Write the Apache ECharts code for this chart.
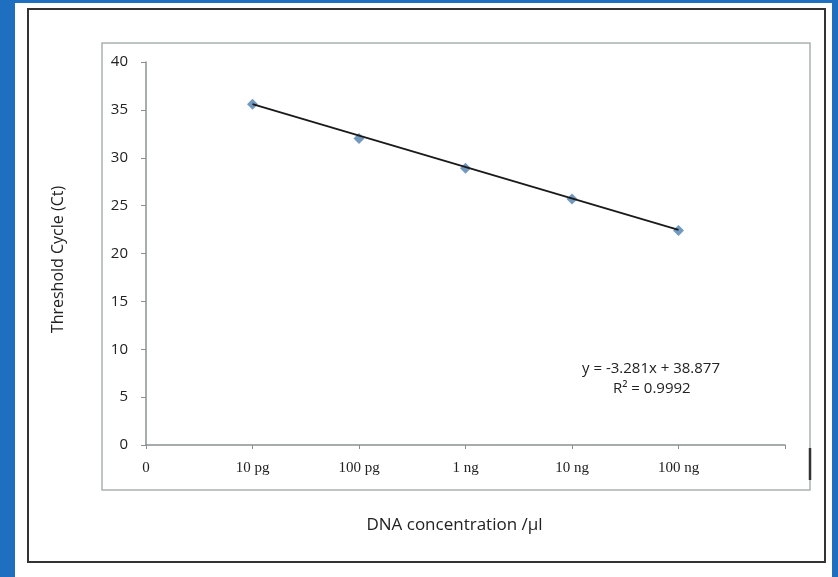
<!DOCTYPE html>
<html>
<head>
<meta charset="utf-8">
<script src="https://cdn.jsdelivr.net/npm/echarts@6/dist/echarts.min.js"></script>
<style>
html,body{margin:0;padding:0;background:#1f6fc1;}
#chart{width:838px;height:577px;}
</style>
</head>
<body>
<div id="chart"></div>
<script>
// x positions and tick labels
var xTicks = [0, 1, 2, 3, 4, 5, 6];
var xLabels = ['0', '10 pg', '100 pg', '1 ng', '10 ng', '100 ng', ''];
// measured Ct values
var ctX = [1, 2, 3, 4, 5];
var ctValues = [35.6, 32.0, 28.9, 25.7, 22.4];
// trend line end points
var trendX = [1, 5];
var trendY = [35.6, 22.47];
var eqLines = ['y = -3.281x + 38.877', 'R² = 0.9992'];

var myChart = echarts.init(document.getElementById('chart'));

var option = {
    backgroundColor: '#1f6fc1',
    animation: false,
    graphic: [
        // white page
        {type: 'rect', shape: {x: 15, y: 3, width: 817, height: 580}, style: {fill: '#ffffff'}, z: -10},
        // outer dark frame
        {type: 'rect', shape: {x: 28, y: 9, width: 797, height: 553}, style: {fill: 'none', stroke: '#333', lineWidth: 2}, z: -9},
        // chart area frame
        {type: 'rect', shape: {x: 102, y: 43, width: 708, height: 447}, style: {fill: 'none', stroke: '#a9b1b1', lineWidth: 1.5}, z: -8},
        {type: 'line', shape: {x1: 810, y1: 448, x2: 810, y2: 480}, style: {stroke: '#333', lineWidth: 2.5}, z: -7},
        // equation
        {type: 'text', left: 582, top: 361, style: {text: eqLines[0], fontFamily: 'Open Sans', fontSize: 15, fill: '#222'}},
        {type: 'text', left: 613, top: 381, style: {text: eqLines[1], fontFamily: 'Open Sans', fontSize: 15, fill: '#222'}}
    ],
    grid: {left: 146, right: 53, top: 62, bottom: 132},
    xAxis: {
        type: 'value',
        min: 0,
        max: 6,
        interval: 1,
        name: 'DNA concentration /µl',
        nameLocation: 'middle',
        nameGap: 72,
        nameTextStyle: {fontFamily: 'Open Sans', fontSize: 17, color: '#222', padding: [0, 22, 0, 0]},
        axisLine: {lineStyle: {color: '#8a9090', width: 1.5}},
        axisTick: {show: true, length: 4, lineStyle: {color: '#8a9090'}},
        splitLine: {show: false},
        axisLabel: {
            fontFamily: 'Liberation Serif',
            fontSize: 15,
            color: '#222',
            margin: 16,
            formatter: function (v) { return xLabels[xTicks.indexOf(v)]; }
        }
    },
    yAxis: {
        type: 'value',
        min: 0,
        max: 40,
        interval: 5,
        name: 'Threshold Cycle (Ct)',
        nameLocation: 'middle',
        nameGap: 80,
        nameTextStyle: {fontFamily: 'Open Sans', fontSize: 16, color: '#222', padding: [0, 12, 0, 0]},
        axisLine: {show: true, lineStyle: {color: '#8a9090', width: 1.5}},
        axisTick: {show: true, length: 5, lineStyle: {color: '#8a9090'}},
        splitLine: {show: false},
        axisLabel: {fontFamily: 'Open Sans', fontSize: 15, color: '#222', margin: 18}
    },
    series: [
        {
            name: 'trend',
            type: 'line',
            data: trendX.map(function (x, i) { return [x, trendY[i]]; }),
            showSymbol: false,
            lineStyle: {color: '#1a1a1a', width: 1.8},
            z: 3
        },
        {
            name: 'Ct',
            type: 'scatter',
            data: ctX.map(function (x, i) { return [x, ctValues[i]]; }),
            symbol: 'diamond',
            symbolSize: 11,
            itemStyle: {color: '#4f7fae'},
            z: 2
        }
    ]
};

myChart.setOption(option);
</script>
</body>
</html>
